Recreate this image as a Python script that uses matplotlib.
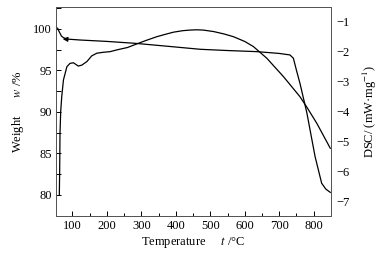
"""TG / DSC curve vs temperature -> out.png"""
import matplotlib
matplotlib.use("Agg")
import matplotlib.pyplot as plt
from matplotlib.ticker import MultipleLocator

plt.rcParams["font.family"] = ["Liberation Serif", "DejaVu Serif"]
plt.rcParams["mathtext.fontset"] = "stix"

# TG curve (left axis, weight %)
tg_t = [57, 60, 64, 68, 74, 85, 122, 200, 282, 380, 471, 550, 634, 700, 731,
        741, 750, 760, 780, 804, 823, 835, 848]
tg_w = [100.1, 99.8, 99.48, 99.15, 98.95, 98.78, 98.67, 98.5, 98.27, 97.9, 97.55,
        97.4, 97.27, 97.05, 96.87, 96.47, 95.0, 93.46, 89.9, 84.6, 81.4, 80.7, 80.3]

# DSC curve (right axis, mW/mg)
dsc_t = [62, 63, 64, 66, 69, 74, 84, 93, 103, 117, 127, 142, 156, 171, 190, 209,
         229, 260, 287, 315, 345, 370, 393, 420, 441, 460, 480, 510, 540, 567, 600,
         625, 664, 712, 760, 780, 809, 848]
dsc_v = [-6.78, -6.0, -4.72, -4.0, -3.5, -2.94, -2.5, -2.39, -2.37, -2.48, -2.45,
         -2.33, -2.14, -2.05, -2.02, -2.0, -1.94, -1.86, -1.74, -1.62, -1.5, -1.42,
         -1.35, -1.3, -1.28, -1.27, -1.28, -1.33, -1.41, -1.5, -1.66, -1.83, -2.22,
         -2.83, -3.5, -3.85, -4.39, -5.22]

fs = 9
fig = plt.figure(figsize=(3.88, 2.59), dpi=100)
ax = fig.add_axes([0.144, 0.166, 0.709, 0.807])
ax2 = ax.twinx()

ax.plot(tg_t, tg_w, color="black", lw=0.9)
ax.annotate("", xy=(64, 98.8), xytext=(88, 98.75),
            arrowprops=dict(arrowstyle="-|>", mutation_scale=7, lw=0.8, color="black"))
ax2.plot(dsc_t, dsc_v, color="black", lw=0.9)

ax.set_xlim(52, 850)
ax.set_ylim(77.45, 102.65)
ax2.set_ylim(-7.48, -0.51)

ax.xaxis.set_major_locator(MultipleLocator(100))
ax.xaxis.set_minor_locator(MultipleLocator(50))
ax.yaxis.set_major_locator(MultipleLocator(5))
ax.yaxis.set_minor_locator(MultipleLocator(2.5))
ax2.yaxis.set_major_locator(MultipleLocator(1))

ax.tick_params(which="both", direction="in", labelsize=fs, width=0.7, pad=3)
ax.tick_params(which="major", length=3.5)
ax.tick_params(which="minor", length=2.5)
ax.tick_params(axis="y", which="minor", length=3.5)
ax2.tick_params(direction="in", length=0, labelsize=fs, pad=4)

for a in (ax, ax2):
    for s in a.spines.values():
        s.set_linewidth(0.7)
        s.set_color("#555")

ax.set_xlabel(r"Temperature     $t$ /°C", fontsize=fs, labelpad=2)
ax.set_ylabel(r"Weight      $w$ /%", fontsize=fs, labelpad=5)
ax2.set_ylabel(r"DSC/ (mW·mg$^{-1}$)", fontsize=fs, labelpad=8)

fig.savefig("out.png", dpi=100)
